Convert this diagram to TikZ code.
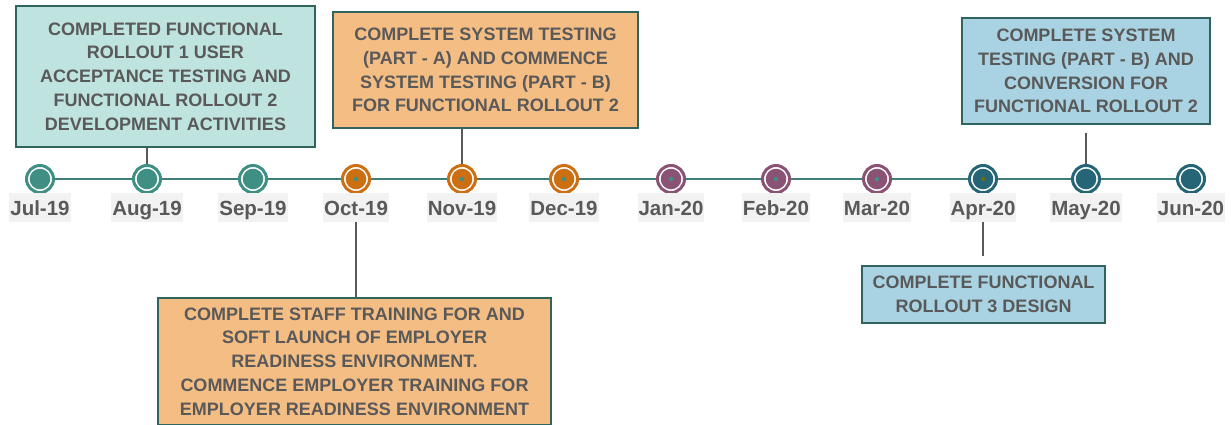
\documentclass[tikz,border=0pt]{standalone}
\usepackage{fontspec}
\setmainfont{Liberation Sans}
\definecolor{cteal}{HTML}{3F8F84}
\definecolor{corange}{HTML}{CC6F13}
\definecolor{cpurple}{HTML}{8A5274}
\definecolor{cdark}{HTML}{256576}
\definecolor{cline}{HTML}{3F7E78}
\definecolor{colive}{HTML}{6B6B1A}
\definecolor{ctext}{HTML}{595959}
\definecolor{cborder}{HTML}{30655F}
\definecolor{fteal}{HTML}{BFE3DF}
\definecolor{forange}{HTML}{F4BD84}
\definecolor{fblue}{HTML}{A9D3E2}
\definecolor{labbg}{HTML}{F2F2F2}
\begin{document}
\begin{tikzpicture}[x=1pt,y=-1pt,
  ring/.style={circle, minimum size=27pt, inner sep=0pt, line width=3pt, draw=#1, fill=white},
  mlabel/.style={fill=labbg, text=ctext, font=\fontsize{20.5}{24}\selectfont\bfseries, inner xsep=1pt, inner ysep=4pt, text height=18pt, text depth=3pt},
  infobox/.style={draw=cborder, line width=2pt, fill=#1, text=ctext, align=center, inner sep=0pt,
     font=\fontsize{18}{23.8}\selectfont\bfseries},
  conn/.style={draw=ctext, line width=2pt},
  tl/.style={draw=cline, line width=2pt}]
\useasboundingbox (0,0) rectangle (1231,424);
\clip (0,0) rectangle (1231,424);

% boxes
\node[infobox=fteal, minimum width=299pt, minimum height=141pt] (b1) at (165.5,76.5)
  {COMPLETED FUNCTIONAL\\ROLLOUT 1 USER\\ACCEPTANCE TESTING AND\\FUNCTIONAL ROLLOUT 2\\DEVELOPMENT ACTIVITIES};
\node[infobox=forange, minimum width=305pt, minimum height=116pt] (b2) at (485.5,70)
  {COMPLETE SYSTEM TESTING\\(PART - A) AND COMMENCE\\SYSTEM TESTING (PART - B)\\FOR FUNCTIONAL ROLLOUT 2};
\node[infobox=forange, minimum width=393pt, minimum height=127pt] (b3) at (354.5,361.5)
  {COMPLETE STAFF TRAINING FOR AND\\SOFT LAUNCH OF EMPLOYER\\READINESS ENVIRONMENT.\\COMMENCE EMPLOYER TRAINING FOR\\EMPLOYER READINESS ENVIRONMENT};
\node[infobox=fblue, minimum width=248pt, minimum height=106pt] (b4) at (1086,71)
  {COMPLETE SYSTEM\\TESTING (PART - B) AND\\CONVERSION FOR\\FUNCTIONAL ROLLOUT 2};
\node[infobox=fblue, minimum width=243pt, minimum height=57pt] (b5) at (983.5,294.5)
  {COMPLETE FUNCTIONAL\\ROLLOUT 3 DESIGN};

% milestones
\foreach \i/\x/\c/\d in {1/40/cteal/none, 2/147/cteal/none, 3/253/cteal/none,
  4/356/corange/cteal, 5/462/corange/cteal, 6/564/corange/cteal,
  7/671/cpurple/cteal, 8/776/cpurple/cteal, 9/877/cpurple/cteal,
  10/983/cdark/colive, 11/1086/cdark/none, 12/1191/cdark/none}{
  \node[ring=\c] (m\i) at (\x,179) {};
  \fill[\c] (m\i.center) circle[radius=10.3pt];
  \fill[fill=\d] (m\i.center) circle[radius=2.2pt];
}

% timeline
\foreach \i [evaluate=\i as \j using int(\i+1)] in {1,...,11}{
  \draw[tl] (m\i) -- (m\j);
}

% connectors
\draw[conn] (b1.south -| m2) -- (m2);
\draw[conn] (b2.south -| m5) -- (m5);
\draw[conn] (m4) -- (b3.north -| m4);
\draw[conn, shorten >=8pt] (m11) -- (b4.south -| m11);
\draw[conn, shorten >=9pt] (m10) -- (b5.north -| m10);

% month labels
\foreach \i/\x/\t in {1/40/Jul-19, 2/147/Aug-19, 3/253/Sep-19, 4/356/Oct-19,
  5/462/Nov-19, 6/564/Dec-19, 7/671/Jan-20, 8/776/Feb-20, 9/877/Mar-20,
  10/983/Apr-20, 11/1086/May-20, 12/1191/Jun-20}{
  \node[mlabel] (l\i) at (\x,207.5) {\t};
}
\end{tikzpicture}
\end{document}
